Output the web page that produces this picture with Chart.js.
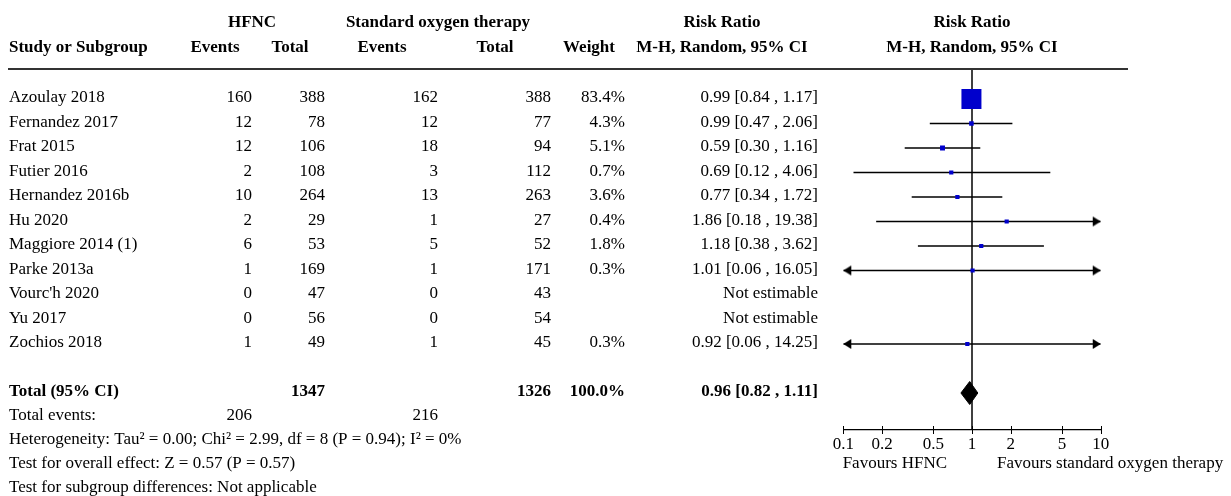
<!DOCTYPE html>
<html>
<head>
<meta charset="utf-8">
<script src="https://cdn.jsdelivr.net/npm/chart.js@4.4.1/dist/chart.umd.min.js"></script>
<style>
  html, body { margin: 0; padding: 0; background: #fff; }
  #forest { display: block; }
</style>
</head>
<body>
<canvas id="forest" width="1231" height="496"></canvas>
<script>
// ---- data ----
const studies = ['Azoulay 2018', 'Fernandez 2017', 'Frat 2015', 'Futier 2016', 'Hernandez 2016b',
  'Hu 2020', 'Maggiore 2014 (1)', 'Parke 2013a', "Vourc'h 2020", 'Yu 2017', 'Zochios 2018'];
const hfncEvents = [160, 12, 12, 2, 10, 2, 6, 1, 0, 0, 1];
const hfncTotal  = [388, 78, 106, 108, 264, 29, 53, 169, 47, 56, 49];
const sotEvents  = [162, 12, 18, 3, 13, 1, 5, 1, 0, 0, 1];
const sotTotal   = [388, 77, 94, 112, 263, 27, 52, 171, 43, 54, 45];
const weightPct  = [83.4, 4.3, 5.1, 0.7, 3.6, 0.4, 1.8, 0.3, null, null, 0.3];
const riskRatio  = [0.99, 0.99, 0.59, 0.69, 0.77, 1.86, 1.18, 1.01, null, null, 0.92];
const ciLow      = [0.84, 0.47, 0.30, 0.12, 0.34, 0.18, 0.38, 0.06, null, null, 0.06];
const ciHigh     = [1.17, 2.06, 1.16, 4.06, 1.72, 19.38, 3.62, 16.05, null, null, 14.25];

const totalRR = 0.96, totalLow = 0.82, totalHigh = 1.11;
const totalHfnc = 1347, totalSot = 1326;
const totalEventsHfnc = 206, totalEventsSot = 216;

const axisTicks = [0.1, 0.2, 0.5, 1, 2, 5, 10];
const footerLines = [
  'Heterogeneity: Tau\u00b2 = 0.00; Chi\u00b2 = 2.99, df = 8 (P = 0.94); I\u00b2 = 0%',
  'Test for overall effect: Z = 0.57 (P = 0.57)',
  'Test for subgroup differences: Not applicable'
];

// ---- layout ----
const FONT = '"Liberation Serif", "Times New Roman", serif';
const FS = 17;
const ROW_H = 24.5;
const TOP = 69, BOTTOM = 430;
const totalRow = studies.length + 1;
const yMin = -(99 - TOP) / ROW_H;
const yMax = yMin + (BOTTOM - TOP) / ROW_H;
const X_MIN = axisTicks[0], X_MAX = axisTicks[axisTicks.length - 1];

function makeArrow(dir) {
  const c = document.createElement('canvas');
  c.width = 18; c.height = 12;
  const g = c.getContext('2d');
  g.fillStyle = '#000';
  g.beginPath();
  if (dir > 0) { g.moveTo(1, 1); g.lineTo(9, 6); g.lineTo(1, 11); }
  else { g.moveTo(17, 1); g.lineTo(9, 6); g.lineTo(17, 11); }
  g.closePath();
  g.fill();
  return c;
}
const arrowL = makeArrow(-1), arrowR = makeArrow(1);

const fmt = v => v.toFixed(2);

const datasets = [];

// line of no effect
datasets.push({
  data: [{ x: 1, y: yMin }, { x: 1, y: yMax }],
  borderColor: '#000', borderWidth: 1.5, pointRadius: 0, order: 4
});

// confidence intervals
studies.forEach((s, i) => {
  if (riskRatio[i] == null) return;
  const lo = ciLow[i], hi = ciHigh[i];
  datasets.push({
    data: [{ x: Math.max(lo, X_MIN), y: i }, { x: Math.min(hi, X_MAX), y: i }],
    borderColor: '#000', borderWidth: 1.5,
    pointRadius: [lo < X_MIN ? 5 : 0, hi > X_MAX ? 5 : 0],
    pointStyle: [lo < X_MIN ? arrowL : 'circle', hi > X_MAX ? arrowR : 'circle'],
    order: 3
  });
});

// study squares
const sqData = [], sqRadius = [];
studies.forEach((s, i) => {
  if (riskRatio[i] == null) return;
  sqData.push({ x: riskRatio[i], y: i });
  const side = Math.max(4.2, 2.19 * Math.sqrt(weightPct[i]));
  sqRadius.push(side / Math.SQRT2);
});
datasets.push({
  data: sqData, showLine: false, pointStyle: 'rect',
  pointRadius: sqRadius, pointBackgroundColor: '#0000cc', pointBorderWidth: 0,
  order: 0
});

// pooled diamond (upper half filled to lower half)
const dh = 0.47;
datasets.push({
  data: [{ x: totalLow, y: totalRow }, { x: totalRR, y: totalRow - dh }, { x: totalHigh, y: totalRow }],
  borderColor: '#000', borderWidth: 1, backgroundColor: '#000', fill: '+1', pointRadius: 0, order: 1
});
datasets.push({
  data: [{ x: totalLow, y: totalRow }, { x: totalRR, y: totalRow + dh }, { x: totalHigh, y: totalRow }],
  borderColor: '#000', borderWidth: 1, backgroundColor: '#000', fill: false, pointRadius: 0, order: 2
});

// table text, header rule and tick marks
const tablePlugin = {
  id: 'forestTable',
  afterDraw(chart) {
    const ctx = chart.ctx;
    const y = chart.scales.y, x = chart.scales.x;
    const area = chart.chartArea;
    ctx.save();
    ctx.fillStyle = '#000';
    ctx.textBaseline = 'alphabetic';

    const txt = (s, px, py, align, bold) => {
      ctx.font = (bold ? 'bold ' : '') + FS + 'px ' + FONT;
      ctx.textAlign = align;
      ctx.fillText(s, px, py);
    };

    // headers
    txt('HFNC', 252, 27, 'center', true);
    txt('Standard oxygen therapy', 438, 27, 'center', true);
    txt('Risk Ratio', 722, 27, 'center', true);
    txt('Risk Ratio', x.getPixelForValue(1), 27, 'center', true);
    txt('Study or Subgroup', 9, 52, 'left', true);
    txt('Events', 215, 52, 'center', true);
    txt('Total', 290, 52, 'center', true);
    txt('Events', 382, 52, 'center', true);
    txt('Total', 495, 52, 'center', true);
    txt('Weight', 589, 52, 'center', true);
    txt('M-H, Random, 95% CI', 722, 52, 'center', true);
    txt('M-H, Random, 95% CI', x.getPixelForValue(1), 52, 'center', true);

    // header rule
    ctx.strokeStyle = '#333';
    ctx.lineWidth = 2;
    ctx.beginPath();
    ctx.moveTo(8, area.top);
    ctx.lineTo(1128, area.top);
    ctx.stroke();

    // study rows
    studies.forEach((s, i) => {
      const py = y.getPixelForValue(i) + 3;
      txt(s, 9, py, 'left');
      txt(String(hfncEvents[i]), 252, py, 'right');
      txt(String(hfncTotal[i]), 325, py, 'right');
      txt(String(sotEvents[i]), 438, py, 'right');
      txt(String(sotTotal[i]), 551, py, 'right');
      if (weightPct[i] != null) txt(weightPct[i].toFixed(1) + '%', 625, py, 'right');
      const ci = riskRatio[i] == null ? 'Not estimable'
        : fmt(riskRatio[i]) + ' [' + fmt(ciLow[i]) + ' , ' + fmt(ciHigh[i]) + ']';
      txt(ci, 818, py, 'right');
    });

    // total rows
    const ty = y.getPixelForValue(totalRow) + 3;
    txt('Total (95% CI)', 9, ty, 'left', true);
    txt(String(totalHfnc), 325, ty, 'right', true);
    txt(String(totalSot), 551, ty, 'right', true);
    txt('100.0%', 625, ty, 'right', true);
    txt(fmt(totalRR) + ' [' + fmt(totalLow) + ' , ' + fmt(totalHigh) + ']', 818, ty, 'right', true);
    txt('Total events:', 9, ty + 24, 'left');
    txt(String(totalEventsHfnc), 252, ty + 24, 'right');
    txt(String(totalEventsSot), 438, ty + 24, 'right');
    footerLines.forEach((l, k) => txt(l, 9, ty + 48 + 24 * k, 'left'));

    // tick marks across the axis
    ctx.strokeStyle = '#000';
    ctx.lineWidth = 1;
    axisTicks.forEach(v => {
      const px = Math.round(x.getPixelForValue(v)) + 0.5;
      ctx.beginPath();
      ctx.moveTo(px, area.bottom - 4);
      ctx.lineTo(px, area.bottom + 4);
      ctx.stroke();
    });

    // favours labels
    txt('Favours HFNC', 947, 468, 'right');
    txt('Favours standard oxygen therapy', 997, 468, 'left');
    ctx.restore();
  }
};

new Chart(document.getElementById('forest'), {
  type: 'line',
  data: { datasets },
  options: {
    responsive: false,
    animation: false,
    events: [],
    layout: { padding: { left: 843.3, right: 130.3, top: TOP, bottom: 0 } },
    elements: { line: { tension: 0 }, point: { hoverRadius: 0 } },
    plugins: { legend: { display: false }, tooltip: { enabled: false }, title: { display: false } },
    scales: {
      x: {
        type: 'logarithmic', min: X_MIN, max: X_MAX, position: 'bottom',
        afterBuildTicks: s => { s.ticks = axisTicks.map(v => ({ value: v })); },
        afterFit: s => { s.height = 496 - BOTTOM; },
        grid: { display: false, drawTicks: false },
        border: { display: true, color: '#000', width: 1.3 },
        ticks: {
          color: '#000', padding: 4, autoSkip: false, maxRotation: 0,
          font: { family: FONT, size: FS },
          callback: v => String(v)
        }
      },
      y: { type: 'linear', min: yMin, max: yMax, reverse: true, display: false }
    }
  },
  plugins: [tablePlugin]
});
</script>
</body>
</html>
